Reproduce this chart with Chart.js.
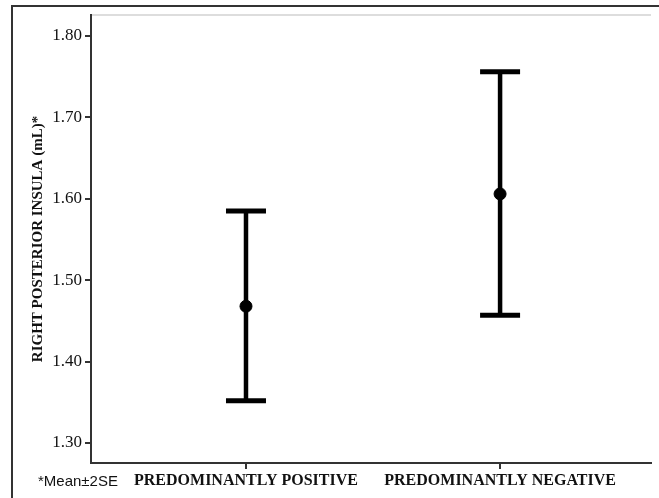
<!DOCTYPE html>
<html>
<head>
<meta charset="utf-8">
<script src="https://cdn.jsdelivr.net/npm/chart.js@4.4.0/dist/chart.umd.min.js"></script>
<style>
  body { margin: 0; background: #fff; }
  #wrap { position: relative; width: 659px; height: 498px; overflow: hidden; }
  #frame { position: absolute; left: 11px; top: 5px; width: 700px; height: 600px; border: 2px solid #333; pointer-events: none; }
</style>
</head>
<body>
<div id="wrap">
  <canvas id="chart" width="659" height="498"></canvas>
  <div id="frame"></div>
</div>
<script>
const categories = ['PREDOMINANTLY POSITIVE', 'PREDOMINANTLY NEGATIVE'];
const means = [1.468, 1.606];
const lower = [1.352, 1.457];
const upper = [1.585, 1.756];
const yTicks = [1.30, 1.40, 1.50, 1.60, 1.70, 1.80];

// one vertical bar + caps per group
const barSets = categories.map((c, i) => ({
    type: 'scatter',
    showLine: true,
    data: [{ x: i + 1, y: lower[i] }, { x: i + 1, y: upper[i] }],
    borderColor: '#000',
    borderWidth: 4.5,
    pointStyle: 'line',
    pointRadius: 20,
    pointBorderWidth: 5,
    pointBorderColor: '#000',
    pointHoverRadius: 20
}));

const meanSet = {
    type: 'scatter',
    data: means.map((m, i) => ({ x: i + 1, y: m })),
    backgroundColor: '#000',
    borderColor: '#000',
    pointRadius: 6,
    pointHoverRadius: 6
};

const extras = {
    id: 'extras',
    afterDraw(chart) {
        const ctx = chart.ctx;
        const a = chart.chartArea;
        ctx.save();
        ctx.strokeStyle = '#ddd';
        ctx.lineWidth = 2;
        ctx.beginPath();
        ctx.moveTo(a.left + 1, a.top);
        ctx.lineTo(a.right, a.top);
        ctx.stroke();
        ctx.fillStyle = '#111';
        ctx.font = '15px "Liberation Sans", Arial, sans-serif';
        ctx.textBaseline = 'middle';
        ctx.textAlign = 'left';
        ctx.fillText('*Mean\u00b12SE', 38, 482);
        ctx.restore();
    }
};

new Chart(document.getElementById('chart'), {
    data: { datasets: [...barSets, meanSet] },
    options: {
        responsive: false,
        devicePixelRatio: 1,
        animation: false,
        layout: { autoPadding: false, padding: { left: 0, top: 15, right: 8, bottom: 0 } },
        plugins: {
            legend: { display: false },
            tooltip: { enabled: false }
        },
        scales: {
            x: {
                type: 'linear',
                min: 0.39,
                max: 2.594,
                afterBuildTicks: s => { s.ticks = [1, 2].map(v => ({ value: v })); },
                afterFit: s => { s.height = 35; s.paddingLeft = 0; s.paddingRight = 0; },
                ticks: {
                    autoSkip: false,
                    maxRotation: 0,
                    padding: 2,
                    color: '#111',
                    font: { family: '"Liberation Serif", "Times New Roman", serif', size: 16, weight: 'bold' },
                    callback: v => categories[v - 1]
                },
                grid: { drawOnChartArea: false, drawTicks: true, tickLength: 6, color: '#333', lineWidth: 2 },
                border: { color: '#333', width: 2 }
            },
            y: {
                min: 1.2754,
                max: 1.8258,
                afterBuildTicks: s => { s.ticks = yTicks.map(v => ({ value: v })); },
                afterFit: s => { s.width = 91; s.paddingTop = 0; s.paddingBottom = 0; },
                title: {
                    display: true,
                    text: 'RIGHT POSTERIOR INSULA (mL)*',
                    color: '#111',
                    padding: { top: 29, bottom: 0 },
                    font: { family: '"Liberation Serif", "Times New Roman", serif', size: 15, weight: 'bold' }
                },
                ticks: {
                    padding: 3,
                    color: '#111',
                    font: { family: '"Liberation Serif", "Times New Roman", serif', size: 17 },
                    callback: v => v.toFixed(2)
                },
                grid: { drawOnChartArea: false, drawTicks: true, tickLength: 6, color: '#333', lineWidth: 2 },
                border: { color: '#333', width: 2 }
            }
        }
    },
    plugins: [extras]
});
</script>
</body>
</html>
